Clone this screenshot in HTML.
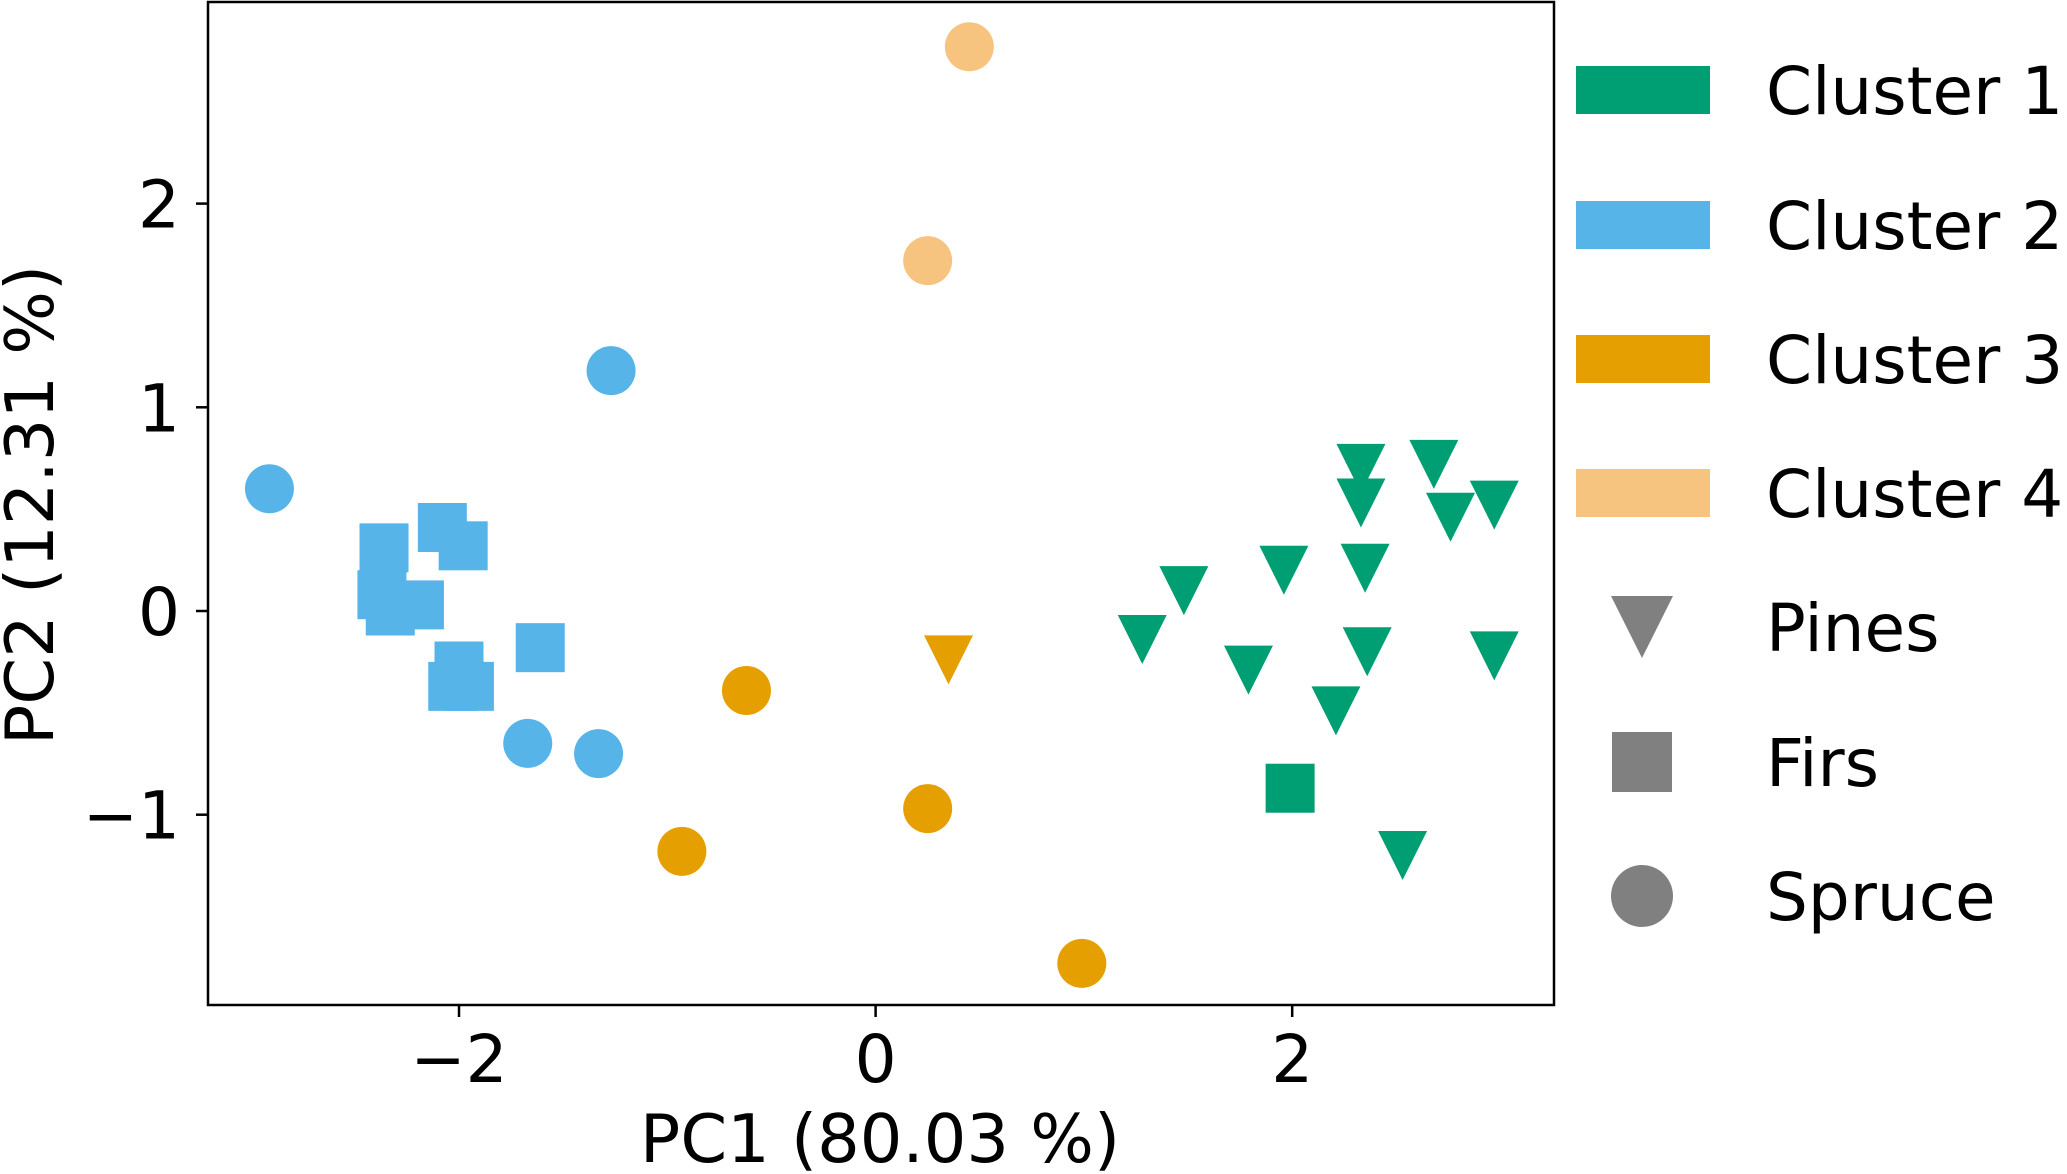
<!DOCTYPE html>
<html><head><meta charset="utf-8"><style>
html,body{margin:0;padding:0;background:#fff;}
svg{display:block;font-family:"DejaVu Sans","Liberation Sans",sans-serif;}
</style></head><body>
<svg id="chart" width="2067" height="1174" viewBox="0 0 2067 1174">
<g id="marks"></g>
<rect x="208" y="2" width="1346" height="1003" fill="none" stroke="#000" stroke-width="2.5"/>
<g id="axes"></g>
<text x="880" y="1162" text-anchor="middle" font-size="67">PC1 (80.03 %)</text>
<text transform="translate(53,505) rotate(-90)" text-anchor="middle" font-size="67">PC2 (12.31 %)</text>
<g id="legend"></g>
</svg>
<script>
const clusterColors = ["#009E73","#56B4E9","#E69F00","#F7C47F"];
const clusterNames = ["Cluster 1","Cluster 2","Cluster 3","Cluster 4"];
const speciesNames = ["Pines","Firs","Spruce"];
const xTicks = [-2,0,2];
const yTicks = [-1,0,1,2];
const pc1Values = [2.33,2.33,2.68,2.76,2.97,1.48,1.96,2.35,1.28,1.79,2.36,2.97,2.21,2.53,1.99,
 -1.27,-2.91,-1.67,-1.33,
 -2.36,-2.08,-1.98,-2.37,-2.33,-2.19,-1.61,-2.0,-1.95,-2.03,
 -0.62,0.25,-0.93,0.99,0.35,
 0.45,0.25];
const pc2Values = [0.70,0.53,0.72,0.46,0.52,0.10,0.20,0.21,-0.14,-0.29,-0.20,-0.22,-0.49,-1.20,-0.87,
 1.18,0.60,-0.65,-0.70,
 0.31,0.41,0.32,0.08,0.0,0.03,-0.18,-0.27,-0.37,-0.37,
 -0.39,-0.97,-1.18,-1.73,-0.24,
 2.77,1.72];
const clusterIdx = [0,0,0,0,0,0,0,0,0,0,0,0,0,0,0,
 1,1,1,1, 1,1,1,1,1,1,1,1,1,1, 2,2,2,2,2, 3,3];
const speciesIdx = [0,0,0,0,0,0,0,0,0,0,0,0,0,0,1,
 2,2,2,2, 1,1,1,1,1,1,1,1,1,1, 2,2,2,2,0, 2,2];

const X0=875.6, XU=208.3, Y0=611, YU=203.7;
const sx = v => X0 + v*XU;
const sy = v => Y0 - v*YU;
const NS="http://www.w3.org/2000/svg";
function marker(parent, sp, cx, cy, s, color){
  let el;
  if(sp===0){el=document.createElementNS(NS,"polygon");
    el.setAttribute("points",`${cx-s/2},${cy-s/2} ${cx+s/2},${cy-s/2} ${cx},${cy+s/2}`);}
  else if(sp===1){el=document.createElementNS(NS,"rect");
    el.setAttribute("x",cx-s/2);el.setAttribute("y",cy-s/2);el.setAttribute("width",s);el.setAttribute("height",s);}
  else {el=document.createElementNS(NS,"circle");
    el.setAttribute("cx",cx);el.setAttribute("cy",cy);el.setAttribute("r",s/2);}
  el.setAttribute("fill",color);
  parent.appendChild(el);
  return el;
}
const marks=document.getElementById("marks");
for(let i=0;i<pc1Values.length;i++){
  const el=marker(marks,speciesIdx[i],sx(pc1Values[i]),sy(pc2Values[i]),49,clusterColors[clusterIdx[i]]);
  
  
}
const axes=document.getElementById("axes");
xTicks.forEach(t=>{
  const l=document.createElementNS(NS,"line");
  l.setAttribute("x1",sx(t));l.setAttribute("x2",sx(t));l.setAttribute("y1",1005);l.setAttribute("y2",1017);
  l.setAttribute("stroke","#000");l.setAttribute("stroke-width","2.5");
  
  
  axes.appendChild(l);
  const tx=document.createElementNS(NS,"text");
  tx.setAttribute("x",sx(t));tx.setAttribute("y",1082);tx.setAttribute("text-anchor","middle");tx.setAttribute("font-size","66");
  tx.textContent=t<0?"\u2212"+(-t):String(t);
  
  
  axes.appendChild(tx);
});
yTicks.forEach(t=>{
  const l=document.createElementNS(NS,"line");
  l.setAttribute("x1",196);l.setAttribute("x2",208);l.setAttribute("y1",sy(t));l.setAttribute("y2",sy(t));
  l.setAttribute("stroke","#000");l.setAttribute("stroke-width","2.5");
  
  
  axes.appendChild(l);
  const tx=document.createElementNS(NS,"text");
  tx.setAttribute("x",180);tx.setAttribute("y",sy(t)+24);tx.setAttribute("text-anchor","end");tx.setAttribute("font-size","66");
  tx.textContent=t<0?"\u2212"+(-t):String(t);
  
  
  axes.appendChild(tx);
});
const legend=document.getElementById("legend");
const legRows=[90,225,359,493,627,762,896];
clusterNames.forEach((n,i)=>{
  const r=document.createElementNS(NS,"rect");
  r.setAttribute("x",1576);r.setAttribute("y",legRows[i]-24);r.setAttribute("width",134);r.setAttribute("height",48);
  r.setAttribute("fill",clusterColors[i]);
  
  
  legend.appendChild(r);
  const tx=document.createElementNS(NS,"text");
  tx.setAttribute("x",1766);tx.setAttribute("y",legRows[i]+24);tx.setAttribute("font-size","66");
  tx.textContent=n;
  
  
  legend.appendChild(tx);
});
speciesNames.forEach((n,i)=>{
  const m=marker(legend,i,1642,legRows[4+i],i===1?60:62,"#808080");
  
  
  const tx=document.createElementNS(NS,"text");
  tx.setAttribute("x",1766);tx.setAttribute("y",legRows[4+i]+24);tx.setAttribute("font-size","66");
  tx.textContent=n;
  
  
  legend.appendChild(tx);
});
</script>
</body></html>
